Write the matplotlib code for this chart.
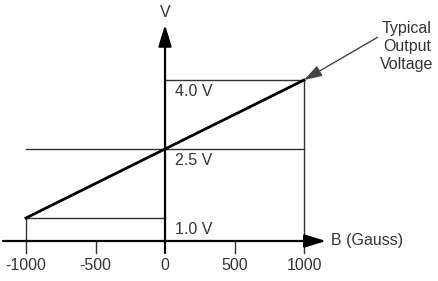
import matplotlib
matplotlib.use('Agg')
import matplotlib.pyplot as plt

plt.rcParams['font.family'] = ['Liberation Sans', 'DejaVu Sans']

# data
B = [-1000, 1000]            # field, gauss
V_out = [1.0, 4.0]           # typical output, volts
V_zero = 2.5                 # output at 0 gauss
tick_vals = [-1000, -500, 0, 500, 1000]
level_labels = ['1.0 V', '2.5 V', '4.0 V']
levels = [1.0, 2.5, 4.0]

axis_y = 0.5                 # where the B axis crosses
tick_low = 0.24
txt = '#333333'
thin = '#333333'

fig = plt.figure(figsize=(4.39, 2.81), dpi=100)
ax = fig.add_axes([0, 0, 1, 1])
ax.set_xlim(-1187, 1971)
ax.set_ylim(-0.37, 5.74)
ax.axis('off')

# guide lines
ax.plot([B[0], B[1]], [V_zero, V_zero], color=thin, lw=1)
ax.plot([B[0], 0], [V_out[0], V_out[0]], color=thin, lw=1)
ax.plot([0, B[1]], [V_out[1], V_out[1]], color=thin, lw=1)
ax.plot([B[0], B[0]], [tick_low, V_out[0]], color=thin, lw=1)
ax.plot([B[1], B[1]], [tick_low, V_out[1]], color=thin, lw=1)
for t in [-500, 500]:
    ax.plot([t, t], [tick_low, axis_y], color=thin, lw=1)

# transfer line
ax.plot(B, V_out, color='black', lw=2)

# axes with arrows
arr = dict(arrowstyle='-|>,head_length=13,head_width=4', mutation_scale=1,
           color='black', lw=1.6, shrinkA=0, shrinkB=0)
ax.annotate('', xy=(1158, axis_y), xytext=(-1165, axis_y), arrowprops=arr)
ax.annotate('', xy=(0, 5.2), xytext=(0, tick_low), arrowprops=arr)

# tick labels
for t in tick_vals:
    ax.text(t, -0.04, str(t), ha='center', va='center', fontsize=11.5, color=txt)

for lv, lab in zip(levels, level_labels):
    ax.text(72, lv - 0.25, lab, ha='left', va='center', fontsize=11.5, color=txt)

ax.text(0, 5.46, 'V', ha='center', va='center', fontsize=11.5, color=txt)
ax.text(1194, axis_y, 'B (Gauss)', ha='left', va='center', fontsize=11.5, color=txt)

ax.annotate('Typical\nOutput\nVoltage', xy=(B[1], V_out[1]), xytext=(1741, 4.72),
            ha='center', va='center', fontsize=11.5, color=txt, linespacing=1.25,
            arrowprops=dict(arrowstyle='-|>,head_length=11,head_width=3.5',
                            mutation_scale=1, color='#444444', lw=1,
                            shrinkA=0, shrinkB=0, relpos=(0, 0.72)))

fig.savefig('out.png', dpi=100)
